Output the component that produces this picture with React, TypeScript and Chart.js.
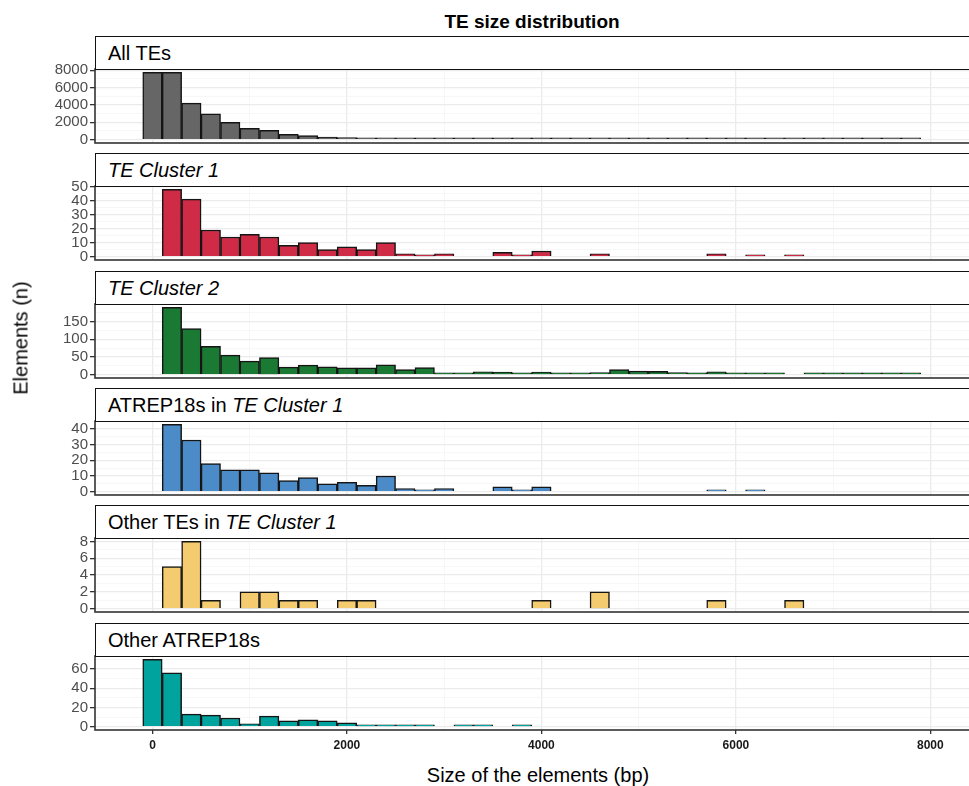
import { useEffect, useRef } from "react";
import type { ReactNode } from "react";
import { Chart, registerables } from "chart.js";

Chart.register(...registerables);

// histogram bins (200 bp wide), centres
const BIN_CENTERS = [
  0, 200, 400, 600, 800, 1000, 1200, 1400, 1600, 1800, 2000, 2200, 2400, 2600,
  2800, 3000, 3200, 3400, 3600, 3800, 4000, 4200, 4400, 4600, 4800, 5000, 5200,
  5400, 5600, 5800, 6000, 6200, 6400, 6600, 6800, 7000, 7200, 7400, 7600, 7800,
];

const ALL_TES = [
  7750, 7750, 4200, 2980, 2000, 1300, 1080, 620, 460, 300, 230, 160, 150, 120,
  90, 80, 70, 65, 75, 70, 80, 65, 60, 70, 85, 75, 70, 60, 35, 45, 35, 30, 30,
  25, 25, 25, 30, 20, 25, 20,
];
const TE_CLUSTER_1 = [
  0, 48, 41, 19, 14, 16, 14, 8, 10, 5, 7, 5, 10, 2, 1, 2, 0, 0, 3, 1, 4, 0, 0,
  2, 0, 0, 0, 0, 0, 2, 0, 1, 0, 1, 0, 0, 0, 0, 0, 0,
];
const TE_CLUSTER_2 = [
  0, 190, 130, 80, 55, 38, 48, 21, 27, 22, 19, 19, 28, 14, 20, 4, 5, 8, 7, 5, 7,
  5, 3, 6, 14, 10, 9, 6, 2, 8, 4, 2, 2, 0, 2, 2, 4, 2, 3, 2,
];
const ATREP_IN_C1 = [
  0, 43, 33, 18, 14, 14, 12, 7, 9, 5, 6, 4, 10, 2, 1, 2, 0, 0, 3, 1, 3, 0, 0, 0,
  0, 0, 0, 0, 0, 1, 0, 1, 0, 0, 0, 0, 0, 0, 0, 0,
];
const OTHER_IN_C1 = [
  0, 5, 8, 1, 0, 2, 2, 1, 1, 0, 1, 1, 0, 0, 0, 0, 0, 0, 0, 0, 1, 0, 0, 2, 0, 0,
  0, 0, 0, 1, 0, 0, 0, 1, 0, 0, 0, 0, 0, 0,
];
const OTHER_ATREP = [
  70, 56, 13, 12, 9, 3, 11, 6, 7, 6, 4, 2, 1, 2, 1, 0, 1, 1, 0, 1, 0, 0, 0, 0,
  0, 0, 0, 0, 0, 0, 0, 0, 0, 0, 0, 0, 0, 0, 0, 0,
];

const X_TICKS = [0, 1000, 2000, 3000, 4000, 5000, 6000, 7000, 8000];
const X_LABELS = [0, 2000, 4000, 6000, 8000];

const Y_ALL = [0, 2000, 4000, 6000, 8000];
const Y_ALL_MINOR = [1000, 3000, 5000, 7000];
const Y_C1 = [0, 10, 20, 30, 40, 50];
const Y_C1_MINOR = [5, 15, 25, 35, 45];
const Y_C2 = [0, 50, 100, 150];
const Y_C2_MINOR = [25, 75, 125, 175];
const Y_AT = [0, 10, 20, 30, 40];
const Y_AT_MINOR = [5, 15, 25, 35];
const Y_OT = [0, 2, 4, 6, 8];
const Y_OT_MINOR = [1, 3, 5, 7];
const Y_OA = [0, 20, 40, 60];
const Y_OA_MINOR = [10, 30, 50, 70];

const FONT = '"Liberation Sans", Arial, Helvetica, sans-serif';

type Panel = {
  label: ReactNode;
  values: number[];
  color: string;
  yRange: [number, number];
  yMajor: number[];
  yMinor: number[];
};

const PANELS: Panel[] = [
  { label: "All TEs", values: ALL_TES, color: "#666666", yRange: [-390, 8140], yMajor: Y_ALL, yMinor: Y_ALL_MINOR },
  { label: <i>TE Cluster 1</i>, values: TE_CLUSTER_1, color: "#CF2A46", yRange: [-2.4, 50.4], yMajor: Y_C1, yMinor: Y_C1_MINOR },
  { label: <i>TE Cluster 2</i>, values: TE_CLUSTER_2, color: "#1A7A34", yRange: [-9.5, 199.5], yMajor: Y_C2, yMinor: Y_C2_MINOR },
  {
    label: <>ATREP18s in <i>TE Cluster 1</i></>,
    values: ATREP_IN_C1, color: "#4A8BC8", yRange: [-2.15, 45.15], yMajor: Y_AT, yMinor: Y_AT_MINOR,
  },
  {
    label: <>Other TEs in <i>TE Cluster 1</i></>,
    values: OTHER_IN_C1, color: "#F4CB6E", yRange: [-0.4, 8.4], yMajor: Y_OT, yMinor: Y_OT_MINOR,
  },
  { label: "Other ATREP18s", values: OTHER_ATREP, color: "#00A39D", yRange: [-3.5, 73.5], yMajor: Y_OA, yMinor: Y_OA_MINOR },
];

// layout (px)
const STRIP_TOPS = [36, 153, 271, 388, 505, 623];
const STRIP_H = 33;
const PANEL_H = 74;
const PANEL_LEFT = 95;
const PANEL_RIGHT = 975;
const CANVAS_W = 980;
const PAD_TOP = 10;

const panelBorder = {
  id: "panelBorder",
  afterDraw(chart: Chart) {
    const { ctx, chartArea: a } = chart;
    ctx.save();
    ctx.strokeStyle = "#333333";
    ctx.lineWidth = 1.6;
    ctx.strokeRect(a.left, a.top, a.right - a.left, a.bottom - a.top);
    ctx.restore();
  },
};

function PanelChart({ panel, top, last }: { panel: Panel; top: number; last: boolean }) {
  const canvasRef = useRef<HTMLCanvasElement | null>(null);
  const xAxisH = last ? 30 : 0;
  const padBottom = last ? 0 : 8;
  const height = PAD_TOP + PANEL_H + xAxisH + padBottom;

  useEffect(() => {
    if (!canvasRef.current) return;
    const { yMajor, yMinor } = panel;
    const isMajorY = (v: number) => yMajor.includes(v);
    const isMajorX = (v: number) => X_LABELS.includes(v);

    const chart = new Chart(canvasRef.current, {
      type: "bar",
      data: {
        datasets: [
          {
            data: BIN_CENTERS.map((x, i) => ({ x, y: panel.values[i] || null })),
            backgroundColor: panel.color,
            borderColor: "#151515",
            borderWidth: 1.5,
            minBarLength: 1.8,
            barPercentage: 1,
            categoryPercentage: 1,
          },
        ],
      },
      options: {
        responsive: true,
        maintainAspectRatio: false,
        animation: false,
        events: [],
        layout: { padding: { top: PAD_TOP, bottom: padBottom, left: 0, right: CANVAS_W - PANEL_RIGHT } },
        plugins: { legend: { display: false }, tooltip: { enabled: false }, title: { display: false } },
        scales: {
          x: {
            type: "linear",
            min: -591,
            max: 8459,
            offset: false,
            bounds: "data",
            afterBuildTicks: (axis: any) => {
              axis.ticks = X_TICKS.map((value) => ({ value }));
            },
            afterFit: (axis: any) => {
              axis.height = xAxisH;
              axis.paddingLeft = 0;
              axis.paddingRight = 0;
            },
            border: { display: false },
            grid: {
              offset: false,
              color: (ctx: any) => (isMajorX(ctx.tick?.value) ? "#EBEBEB" : "#F3F3F3"),
              lineWidth: (ctx: any) => (isMajorX(ctx.tick?.value) ? 1.3 : 0.7),
              drawTicks: last,
              tickLength: 4,
              tickColor: (ctx: any) => (isMajorX(ctx.tick?.value) ? "#333333" : "rgba(0,0,0,0)"),
            },
            ticks: {
              display: last,
              autoSkip: false,
              maxRotation: 0,
              padding: 4,
              color: "#1A1A1A",
              font: { family: FONT, size: 12, weight: "bold" },
              callback: (v: any) => (isMajorX(Number(v)) ? String(v) : ""),
            },
          },
          y: {
            type: "linear",
            min: panel.yRange[0],
            max: panel.yRange[1],
            bounds: "data",
            afterBuildTicks: (axis: any) => {
              axis.ticks = [...yMajor, ...yMinor]
                .filter((v) => v >= panel.yRange[0] && v <= panel.yRange[1])
                .sort((a, b) => a - b)
                .map((value) => ({ value }));
            },
            afterFit: (axis: any) => {
              axis.width = PANEL_LEFT;
              axis.paddingTop = 0;
              axis.paddingBottom = 0;
            },
            border: { display: false },
            grid: {
              color: (ctx: any) => (isMajorY(ctx.tick?.value) ? "#EBEBEB" : "#F3F3F3"),
              lineWidth: (ctx: any) => (isMajorY(ctx.tick?.value) ? 1.3 : 0.7),
              tickLength: 5,
              tickColor: (ctx: any) => (isMajorY(ctx.tick?.value) ? "#333333" : "rgba(0,0,0,0)"),
            },
            ticks: {
              autoSkip: false,
              padding: 2,
              color: "#4D4D4D",
              font: { family: FONT, size: 15 },
              callback: (v: any) => (isMajorY(Number(v)) ? String(v) : ""),
            },
          },
        },
      },
      plugins: [panelBorder],
    } as any);

    return () => chart.destroy();
  }, [panel, last, xAxisH, padBottom]);

  return (
    <div style={{ position: "absolute", left: 0, top: top + STRIP_H - PAD_TOP, width: CANVAS_W, height }}>
      <canvas ref={canvasRef}></canvas>
    </div>
  );
}

export default function App() {
  return (
    <div
      style={{
        position: "absolute",
        left: 0,
        top: 0,
        width: 969,
        height: 786,
        overflow: "hidden",
        background: "#FFFFFF",
        fontFamily: FONT,
        color: "#000000",
      }}
    >
      <div
        style={{
          position: "absolute",
          left: PANEL_LEFT,
          width: 874,
          top: 12,
          lineHeight: "20px",
          fontSize: 19,
          fontWeight: "bold",
          textAlign: "center",
        }}
      >
        TE size distribution
      </div>

      {PANELS.map((p, i) => (
        <PanelChart key={i} panel={p} top={STRIP_TOPS[i]} last={i === PANELS.length - 1} />
      ))}

      {PANELS.map((p, i) => (
        <div
          key={"strip" + i}
          style={{
            position: "absolute",
            left: PANEL_LEFT,
            top: STRIP_TOPS[i],
            width: PANEL_RIGHT - PANEL_LEFT,
            height: STRIP_H + 1,
            boxSizing: "border-box",
            border: "1.6px solid #111111",
            background: "#FFFFFF",
            display: "flex",
            alignItems: "center",
            paddingLeft: 12,
            fontSize: 20,
            whiteSpace: "nowrap",
            zIndex: 2,
          }}
        >
          <span>{p.label}</span>
        </div>
      ))}

      <div
        style={{
          position: "absolute",
          left: 21,
          top: 338,
          transform: "translate(-50%, -50%) rotate(-90deg)",
          whiteSpace: "nowrap",
          fontSize: 20,
        }}
      >
        Elements (n)
      </div>

      <div
        style={{
          position: "absolute",
          left: PANEL_LEFT,
          width: 886,
          top: 764,
          lineHeight: "22px",
          fontSize: 20,
          textAlign: "center",
        }}
      >
        Size of the elements (bp)
      </div>
    </div>
  );
}
